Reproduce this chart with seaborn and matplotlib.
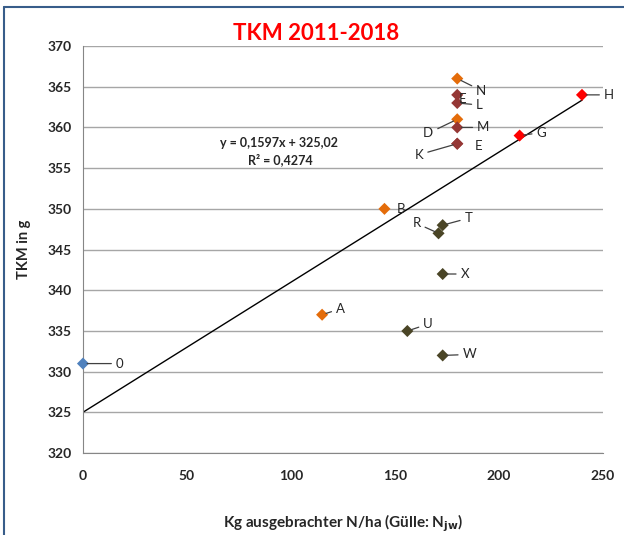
import numpy as np
import pandas as pd
import matplotlib
matplotlib.use("Agg")
import matplotlib.pyplot as plt
from matplotlib.lines import Line2D
import seaborn as sns

# data
labels = ['0', 'A', 'B', 'N', 'E', 'L', 'D', 'M', 'E', 'K', 'G', 'H', 'R', 'T', 'X', 'U', 'W']
n_kg = [0, 115, 145, 180, 180, 180, 180, 180, 180, 180, 210, 240, 171, 173, 173, 156, 173]
tkm = [331, 337, 350, 366, 364, 363, 361, 360, 358, 358, 359, 364, 347, 348, 342, 335, 332]
group = ['blue', 'orange', 'orange', 'orange', 'brown', 'brown', 'orange', 'brown', 'brown', 'brown',
         'red', 'red', 'olive', 'olive', 'olive', 'olive', 'olive']
slope = 0.1597
intercept = 325.02
r2 = 0.4274

# label offsets (pixels) and alignment
offsets = [(33, 0), (14, 6), (12, 0), (19, -12), (2, -4), (19, -2), (-24, -14), (20, 0), (18, -2),
           (-34, -11), (17, 3), (22, 0), (-18, 10), (22, 7), (18, 0), (16, 7), (20, 1)]
leader = [True, True, False, True, False, True, True, True, False, True, True, True, True, True, True, True, True]

palette = {'blue': '#4F81BD', 'orange': '#E46C0A', 'brown': '#953735',
           'red': '#FF0000', 'olive': '#4A4526'}

df = pd.DataFrame({'x': n_kg, 'y': tkm, 'g': group, 'lab': labels})

sns.set_style("white")
plt.rcParams['font.family'] = ['Lato', 'DejaVu Sans']

fig = plt.figure(figsize=(6.24, 5.35), dpi=100)
ax = fig.add_axes([0.133, 0.153, 0.833, 0.761])

ax.set_xlim(0, 250)
ax.set_ylim(320, 370)
ax.set_yticks(np.arange(320, 371, 5))
ax.set_xticks(np.arange(0, 251, 50))
ax.grid(axis='y', color='#A6A6A6', lw=1)
ax.grid(axis='x', visible=False)
ax.set_axisbelow(True)

# trendline
xs = np.array([0, max(n_kg)])
ax.plot(xs, slope * xs + intercept, color='black', lw=1, zorder=2)

sns.scatterplot(data=df, x='x', y='y', hue='g', palette=palette, marker='D', s=38,
                edgecolor='none', legend=False, ax=ax, zorder=3, clip_on=False)

for i in range(len(labels)):
    dx, dy = offsets[i]
    ha = 'left' if dx >= 0 else 'right'
    ap = dict(arrowstyle='-', color='#404040', lw=0.9, shrinkA=1, shrinkB=3) if leader[i] else None
    ax.annotate(labels[i], (n_kg[i], tkm[i]), xytext=(dx, dy), textcoords='offset pixels',
                ha=ha, va='center', fontsize=9.5, color='#262626', arrowprops=ap, zorder=4)

ax.text(94.5, 358.1, 'y = 0,1597x + 325,02', ha='center', va='center', fontsize=9, fontweight='bold')
ax.text(95, 356.0, f'R² = {str(r2).replace(".", ",")}', ha='center', va='center', fontsize=9, fontweight='bold')

for s in ['top', 'right']:
    ax.spines[s].set_visible(False)
for s in ['left', 'bottom']:
    ax.spines[s].set_color('#868686')
ax.tick_params(axis='both', direction='out', length=4, color='#868686', labelsize=10, pad=4)
for t in ax.get_xticklabels() + ax.get_yticklabels():
    t.set_fontweight('bold')
ax.tick_params(axis='x', pad=8)

ax.set_xlabel('Kg ausgebrachter N/ha (Gülle: N$_{\\mathbf{jw}}$)', fontsize=11, fontweight='bold', labelpad=22)
ax.set_ylabel('TKM in g', fontsize=10.5, fontweight='bold', labelpad=12)
fig.text(0.506, 0.938, 'TKM 2011-2018', ha='center', va='center', color='#FF0000',
         fontsize=16, fontweight='bold')

# outer chart frame
fig.add_artist(Line2D([0.0064, 1.0], [0.987, 0.987], transform=fig.transFigure, color='#385D8A', lw=1.5))
fig.add_artist(Line2D([0.0064, 0.0064], [0.0, 0.987], transform=fig.transFigure, color='#385D8A', lw=1.5))

fig.savefig('out.png', dpi=100)
